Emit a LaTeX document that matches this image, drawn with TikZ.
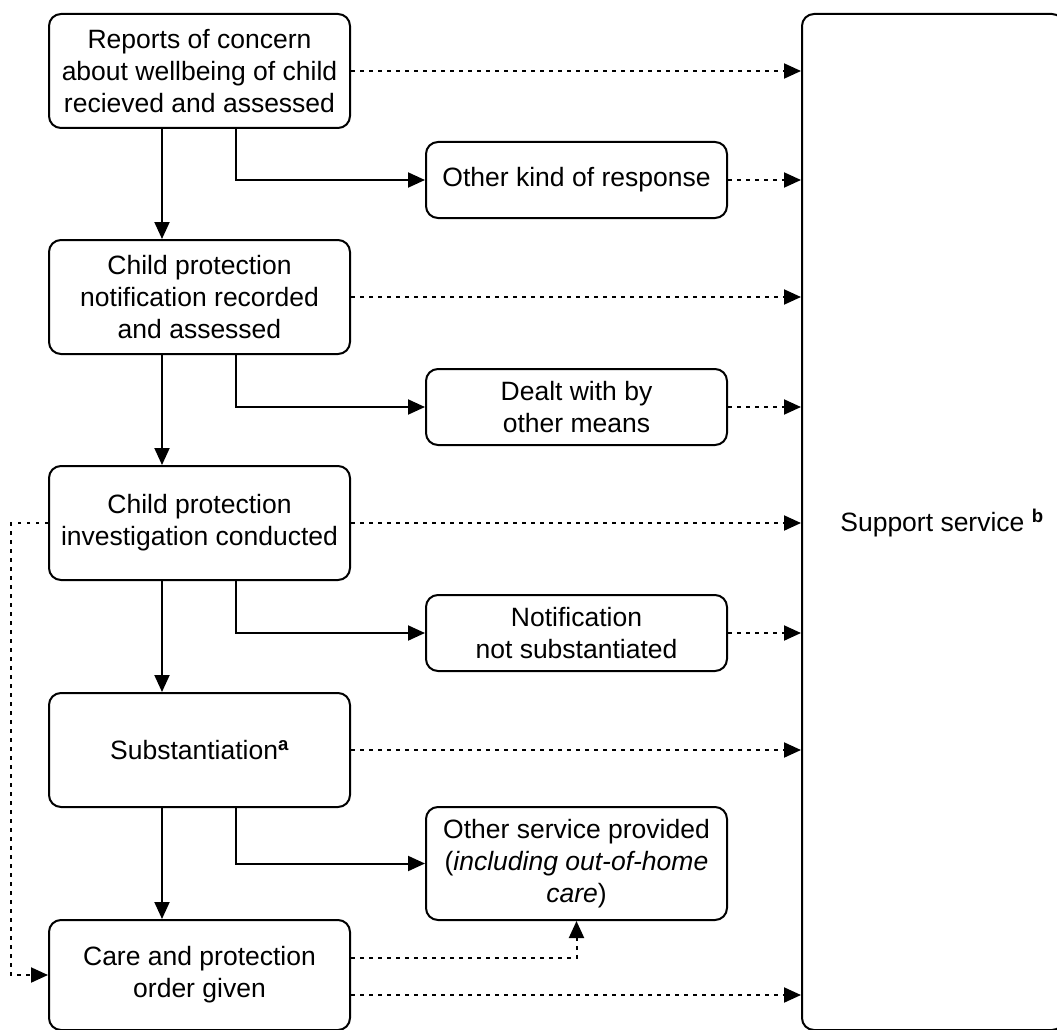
\documentclass[tikz,border=0pt]{standalone}
\usepackage{fontspec}
\setmainfont{Liberation Sans}
\usetikzlibrary{arrows.meta}
\begin{document}
\begin{tikzpicture}[x=1pt,y=-1pt,
  txt/.style={font=\fontsize{26.5}{32}\selectfont},
  box/.style={draw, line width=2pt, rounded corners=12pt, align=center, inner sep=0pt, txt},
  lbox/.style={box, minimum width=301pt, minimum height=114pt},
  rbox/.style={box, minimum width=301pt, minimum height=76pt},
  tip/.style={-{Triangle[length=17pt,width=15pt]}},
  arr/.style={line width=2pt, tip},
  dotarr/.style={line width=2pt, dash pattern=on 3.5pt off 5.5pt, tip}
]
\useasboundingbox (0,0) rectangle (1057,1030);

% left column
\node[lbox] (b1) at (199.5,71) {Reports of concern\\about wellbeing of child\\recieved and assessed};
\node[lbox] (b2) at (199.5,297) {Child protection\\notification recorded\\and assessed};
\node[lbox] (b3) at (199.5,523) {Child protection\\investigation conducted};
\node[lbox] (b4) at (199.5,750) {Substantiation\textsuperscript{\bfseries a}};
\node[box, minimum width=301pt, minimum height=110pt] (b5) at (199.5,975) {Care and protection\\order given};

% middle column
\node[rbox] (r1) at (576.5,180) {Other kind of response};
\node[rbox] (r2) at (576.5,407) {Dealt with by\\other means};
\node[rbox] (r3) at (576.5,633) {Notification\\not substantiated};
\node[box, minimum width=301pt, minimum height=113pt] (r4) at (576.5,863.5) {Other service provided\\(\textit{including out-of-home}\\\textit{care})};

% support service
\node[box, minimum width=262pt, minimum height=1016pt] (sup) at (933,522) {};
\node[txt, inner sep=0pt] (suptxt) at (942,523) {Support service \textsuperscript{\bfseries b}};

% main flow
\draw[arr] ([xshift=-37.5pt]b1.south) -- ([xshift=-37.5pt]b2.north);
\draw[arr] ([xshift=-37.5pt]b2.south) -- ([xshift=-37.5pt]b3.north);
\draw[arr] ([xshift=-37.5pt]b3.south) -- ([xshift=-37.5pt]b4.north);
\draw[arr] ([xshift=-37.5pt]b4.south) -- ([xshift=-37.5pt]b5.north);

% branches
\draw[arr] ([xshift=36pt]b1.south) |- (r1.west);
\draw[arr] ([xshift=36pt]b2.south) |- (r2.west);
\draw[arr] ([xshift=36pt]b3.south) |- (r3.west);
\draw[arr] ([xshift=36pt]b4.south) |- (r4.west);

% dotted to support
\draw[dotarr] (b1.east) -- (b1.east -| sup.west);
\draw[dotarr] (r1.east) -- (r1.east -| sup.west);
\draw[dotarr] (b2.east) -- (b2.east -| sup.west);
\draw[dotarr] (r2.east) -- (r2.east -| sup.west);
\draw[dotarr] (b3.east) -- (b3.east -| sup.west);
\draw[dotarr] (r3.east) -- (r3.east -| sup.west);
\draw[dotarr] (b4.east) -- (b4.east -| sup.west);
\draw[dotarr] ([yshift=-20pt]b5.east) -- ([yshift=-20pt]b5.east -| sup.west);

% other dotted
\draw[dotarr] ([yshift=17pt]b5.east) -| (r4.south);
\draw[dotarr] (b3.west) -- ++(-37pt,0) |- (b5.west);
\end{tikzpicture}
\end{document}
